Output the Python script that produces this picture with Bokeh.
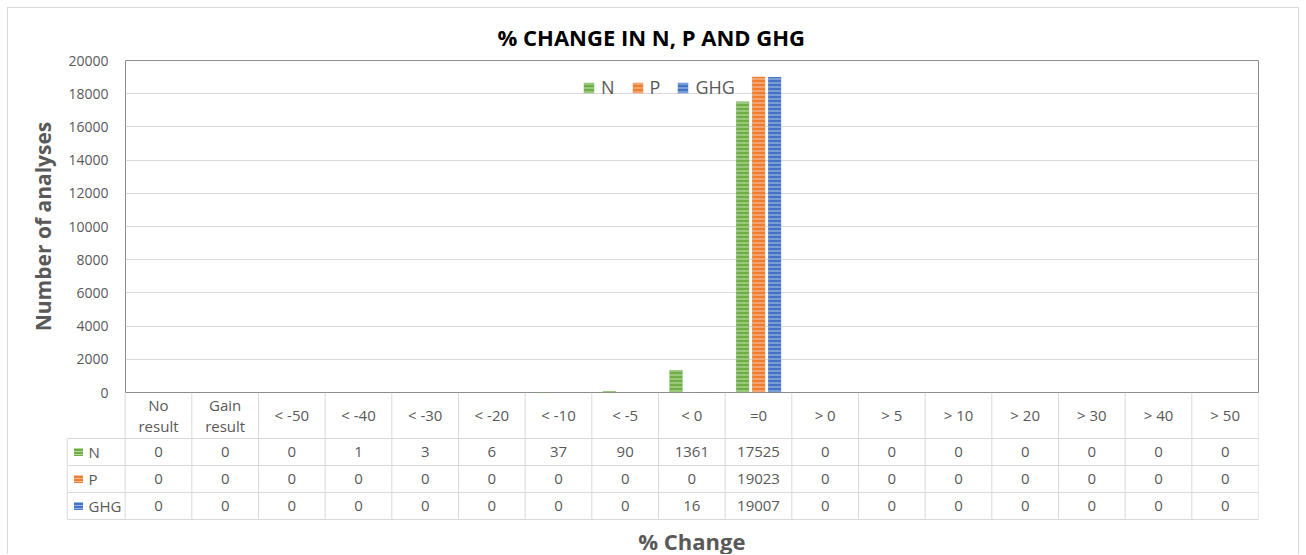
import numpy as np
from bokeh.embed import file_html
from bokeh.resources import INLINE
from bokeh.plotting import figure
from bokeh.layouts import column
from bokeh.models import (ColumnDataSource, FactorRange, Range1d, Legend, LegendItem,
                          SingleIntervalTicker, Title)
from bokeh.transform import dodge
from bokeh.core.properties import value

# ---- data -------------------------------------------------------------
categories = ["No\nresult", "Gain\nresult", "< -50", "< -40", "< -30", "< -20",
              "< -10", "< -5", "< 0", "=0", "> 0", "> 5", "> 10", "> 20",
              "> 30", "> 40", "> 50"]
series_names = ["N", "P", "GHG"]
n_counts = [0, 0, 0, 1, 3, 6, 37, 90, 1361, 17525, 0, 0, 0, 0, 0, 0, 0]
p_counts = [0, 0, 0, 0, 0, 0, 0, 0, 0, 19023, 0, 0, 0, 0, 0, 0, 0]
ghg_counts = [0, 0, 0, 0, 0, 0, 0, 0, 16, 19007, 0, 0, 0, 0, 0, 0, 0]

# ---- styling ----------------------------------------------------------
FONT = "Open Sans"
TEXT_GREY = "#595959"
LINE_GREY = "#d9d9d9"
fill_colors = ["#70AD47", "#ED7D31", "#4472C4"]
stripe_colors = ["#B5D89E", "#F6BE96", "#9DB6E2"]
bar_offsets = [-0.24, 0.0, 0.24]
BAR_WIDTH = 0.195

source = ColumnDataSource(dict(cat=categories, N=n_counts, P=p_counts, GHG=ghg_counts))

# ---- bar chart --------------------------------------------------------
p = figure(width=1290, height=396,
           x_range=FactorRange(factors=categories, range_padding=0, factor_padding=0),
           y_range=Range1d(0, 20000),
           x_axis_location=None, title=None,
           output_backend="svg", toolbar_location=None,
           min_border_left=117, min_border_right=40,
           min_border_top=52, min_border_bottom=12)
p.frame_align = False
p.outline_line_color = "#8c8c8c"
p.outline_line_width = 1
p.background_fill_color = "white"
p.border_fill_color = "white"

p.yaxis.ticker = SingleIntervalTicker(interval=2000, num_minor_ticks=0)
p.yaxis.axis_line_color = None
p.yaxis.major_tick_in = 0
p.yaxis.major_tick_out = 0
p.yaxis.minor_tick_line_color = None
p.yaxis.major_label_standoff = 17
p.yaxis.major_label_text_font = FONT
p.yaxis.major_label_text_font_size = "14px"
p.yaxis.major_label_text_color = TEXT_GREY
p.yaxis.axis_label = "Number of analyses"
p.yaxis.axis_label_text_font = FONT
p.yaxis.axis_label_text_font_size = "21px"
p.yaxis.axis_label_text_font_style = "bold"
p.yaxis.axis_label_text_color = TEXT_GREY
p.yaxis.axis_label_standoff = 8

p.xgrid.visible = False
p.ygrid.grid_line_color = LINE_GREY
p.ygrid.grid_line_width = 1

items = []
for name, off, fc, sc in zip(series_names, bar_offsets, fill_colors, stripe_colors):
    r = p.vbar(x=dodge("cat", off, range=p.x_range), top=name, width=BAR_WIDTH,
               source=source, fill_color=fc, line_color=None,
               hatch_pattern="horizontal_line", hatch_color=sc,
               hatch_scale=4, hatch_weight=1.2)
    items.append(LegendItem(label=name, renderers=[r]))

legend = Legend(items=items, orientation="horizontal", location=(457, 293),
                padding=0, margin=0, spacing=16, label_standoff=6,
                glyph_width=13, glyph_height=13, label_width=0,
                label_text_font=FONT, label_text_font_size="18px",
                label_text_color=TEXT_GREY, border_line_color=None,
                background_fill_alpha=0)
p.add_layout(legend, "center")

p.add_layout(Title(text="% CHANGE IN N, P AND GHG", align="left",
                   text_font=FONT, text_font_size="22px", text_font_style="bold",
                   text_color="#000000", offset=372, standoff=18), "above")

# ---- data table under the bars ----------------------------------------
# y is measured in pixels below the bar baseline; x in category columns,
# with the row-label column occupying the slot left of zero.
t = figure(width=1290, height=162,
           x_range=Range1d(-1, 17), y_range=Range1d(162, 0),
           x_axis_location=None, y_axis_location=None, title=None,
           output_backend="svg", toolbar_location=None,
           min_border_left=50, min_border_right=40,
           min_border_top=0, min_border_bottom=0)
t.margin = (-12, 0, 0, 0)   # tuck the table up against the bar baseline
t.frame_align = False
t.outline_line_color = None
t.background_fill_color = None
t.border_fill_color = None
t.grid.visible = False

n_cat = len(categories)
col_idx = np.arange(n_cat)
header_mid = 22.5
row_top = [46, 73, 100]
row_bottom = 127
row_mid = [59.5, 86.5, 113.5]
label_left = -0.87

# grid lines
edges = np.arange(n_cat + 1)
t.segment(x0=edges, y0=0, x1=edges, y1=row_bottom, line_color=LINE_GREY, line_width=1)
t.segment(x0=[label_left], y0=[row_top[0]], x1=[label_left], y1=[row_bottom],
          line_color=LINE_GREY, line_width=1)
hlines = row_top + [row_bottom]
t.segment(x0=label_left, y0=hlines, x1=n_cat, y1=hlines, line_color=LINE_GREY, line_width=1)

# column headers
t.text(x=col_idx + 0.5, y=header_mid, text=categories,
       text_font=value(FONT), text_font_size="15px", text_color=TEXT_GREY,
       text_align="center", text_baseline="middle", text_line_height=1.05)

# rows of counts
for name, counts, ym, fc, sc in zip(series_names, [n_counts, p_counts, ghg_counts],
                                     row_mid, fill_colors, stripe_colors):
    t.text(x=col_idx + 0.5, y=ym, text=[str(v) for v in counts],
           text_font=value(FONT), text_font_size="15px", text_color=TEXT_GREY,
           text_align="center", text_baseline="middle")
    t.rect(x=[-0.70], y=[ym], width=9, height=8, width_units="screen",
           height_units="screen", fill_color=fc, line_color=None,
           hatch_pattern="horizontal_line", hatch_color=sc, hatch_scale=3, hatch_weight=1)
    t.text(x=[-0.55], y=[ym], text=[name],
           text_font=value(FONT), text_font_size="15px", text_color=TEXT_GREY,
           text_align="left", text_baseline="middle")

t.text(x=[n_cat / 2], y=[148], text=["% Change"],
       text_font=value(FONT), text_font_size="22px", text_font_style="bold",
       text_color=TEXT_GREY, text_align="center", text_baseline="middle")

layout = column(p, t, spacing=0, margin=(7, 0, 0, 7),
                styles={"border": "1px solid #d9d9d9", "border-bottom": "none"})

open("out.html", "w").write(file_html(layout, INLINE))
